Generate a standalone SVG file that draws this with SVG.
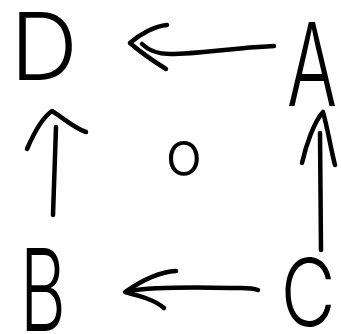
<svg xmlns="http://www.w3.org/2000/svg" width="341" height="334" viewBox="0 0 341 334">
<style>
.lbl{font-family:Inter,"Liberation Sans",sans-serif;font-weight:300;fill:#000;text-anchor:middle}
.ink{fill:none;stroke:#000;stroke-width:4.5;stroke-linecap:round;stroke-linejoin:round}
</style>
<rect width="341" height="334" fill="#fff"/>
<g id="D"><text class="lbl" transform="translate(44,80)" font-size="94">D</text></g>
<g id="A"><text class="lbl" transform="translate(312,106) scale(0.64,1)" font-size="116">A</text></g>
<g id="B"><text class="lbl" transform="translate(43,331) scale(0.62,1)" font-size="114">B</text></g>
<g id="C"><text class="lbl" transform="translate(308,326) scale(0.8,1)" font-size="94">C</text></g>
<g id="O"><text class="lbl" x="184" y="175" font-size="62">o</text></g>
<g id="connectors">
<path class="ink" d="M274,46 C230,48 200,54 170,54 C158,54 148,50 142,44"/>
<path class="ink" d="M167,25 C155,26 140,34 130,43 C140,52 155,62 166,69"/>
<path class="ink" d="M53,215 C54,185 55,155 56,127"/>
<path class="ink" d="M27,149 C33,135 42,118 52,111 C62,117 74,128 86,132"/>
<path class="ink" d="M321,250 C321,210 320,170 320,133"/>
<path class="ink" d="M302,163 C306,145 314,122 323,112 C328,130 331,150 335,165"/>
<path class="ink" d="M258,290 C250,287 245,288 230,288 C190,287 155,287 127,291"/>
<path class="ink" d="M176,271 C158,272 138,283 125,292 C140,296 155,300 164,308"/>
</g>
</svg>
